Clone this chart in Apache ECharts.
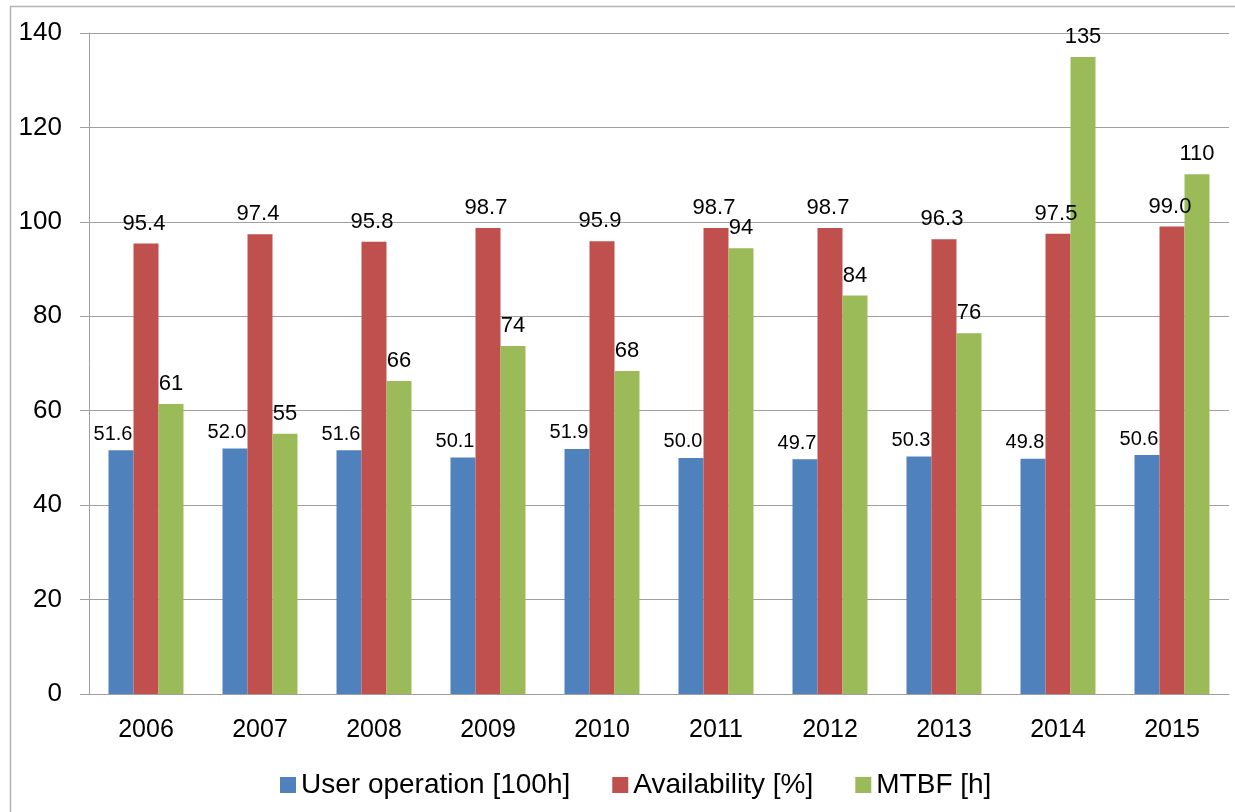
<!DOCTYPE html>
<html>
<head>
<meta charset="utf-8">
<script src="https://cdn.jsdelivr.net/npm/echarts@6/dist/echarts.min.js"></script>
<style>
  html, body { margin: 0; padding: 0; background: #fff; }
  #chart { width: 1235px; height: 812px; }
</style>
</head>
<body>
<div id="chart"></div>
<script>
const years = ['2006', '2007', '2008', '2009', '2010', '2011', '2012', '2013', '2014', '2015'];
const userOperation = [51.6, 52.0, 51.6, 50.1, 51.9, 50.0, 49.7, 50.3, 49.8, 50.6];
const availability = [95.4, 97.4, 95.8, 98.7, 95.9, 98.7, 98.7, 96.3, 97.5, 99.0];
const mtbf = [61.4, 55.1, 66.3, 73.7, 68.4, 94.4, 84.4, 76.4, 134.9, 110.1];

const FONT = 'Liberation Sans, Arial, sans-serif';

const myChart = echarts.init(document.getElementById('chart'));

function barLabel(size, digits, offsetX, dist) {
    return {
        show: true,
        position: 'top',
        distance: dist,
        offset: [offsetX, 0],
        color: '#000',
        fontFamily: FONT,
        fontSize: size,
        formatter: function (p) {
            return digits === 0 ? Math.round(p.value).toString() : p.value.toFixed(digits);
        }
    };
}

const option = {
    animation: false,
    textStyle: { fontFamily: FONT },
    graphic: [{
        type: 'rect',
        shape: { x: 10.5, y: 6.5, width: 1240, height: 830 },
        style: { fill: 'none', stroke: '#b4b4b4', lineWidth: 1.5 },
        silent: true,
        z: -1
    }],
    grid: { left: 89, right: 6, top: 33, bottom: 118 },
    legend: {
        left: 275,
        top: 766,
        icon: 'rect',
        itemWidth: 16,
        itemHeight: 16,
        itemGap: 42,
        textStyle: { fontFamily: FONT, fontSize: 28, color: '#000' },
        data: ['User operation [100h]', 'Availability [%]', 'MTBF [h]']
    },
    xAxis: {
        type: 'category',
        data: years,
        axisLine: { lineStyle: { color: '#a0a0a0', width: 1 } },
        axisTick: { length: 9, lineStyle: { color: '#a0a0a0' } },
        axisLabel: { color: '#000', fontFamily: FONT, fontSize: 25, margin: 24 }
    },
    yAxis: {
        type: 'value',
        min: 0,
        max: 140,
        interval: 20,
        axisLine: { show: true, lineStyle: { color: '#a0a0a0', width: 1 } },
        axisTick: { show: true, length: 9, lineStyle: { color: '#a0a0a0' } },
        splitLine: { lineStyle: { color: '#a0a0a0', width: 1.2 } },
        axisLabel: { color: '#000', fontFamily: FONT, fontSize: 26, margin: 27 }
    },
    series: [
        {
            name: 'User operation [100h]',
            type: 'bar',
            data: userOperation,
            barWidth: 25,
            barGap: '0%',
            itemStyle: { color: '#4F81BD' },
            label: barLabel(20, 1, -8, 6)
        },
        {
            name: 'Availability [%]',
            type: 'bar',
            data: availability,
            barWidth: 25,
            barGap: '0%',
            itemStyle: { color: '#C0504D' },
            label: barLabel(22, 1, -2, 9)
        },
        {
            name: 'MTBF [h]',
            type: 'bar',
            data: mtbf,
            barWidth: 25,
            barGap: '0%',
            itemStyle: { color: '#9BBB59' },
            label: barLabel(22, 0, 0, 9)
        }
    ]
};

myChart.setOption(option);
window.onresize = function () {
    myChart.resize();
};
</script>
</body>
</html>
